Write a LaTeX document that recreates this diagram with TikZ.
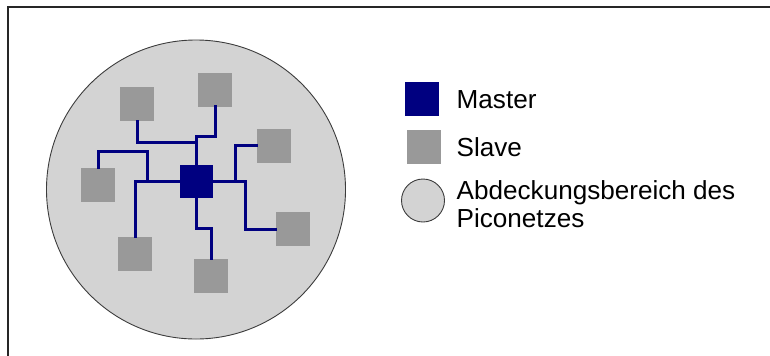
\documentclass[tikz,border=0pt]{standalone}
\usepackage{fontspec}
\setmainfont{Liberation Sans}
\definecolor{mastercol}{RGB}{0,0,128}
\definecolor{slavecol}{RGB}{153,153,153}
\definecolor{areacol}{RGB}{211,211,211}
\definecolor{rimcol}{RGB}{60,60,60}
\begin{document}
\begin{tikzpicture}[x=1bp,y=-1bp,
  masterbox/.style={rectangle,fill=mastercol,inner sep=0pt,minimum size=33bp},
  slavebox/.style={rectangle,fill=slavecol,inner sep=0pt,minimum size=34bp},
  area/.style={circle,fill=areacol,draw=rimcol,line width=0.9bp,inner sep=0pt},
  link/.style={draw=mastercol,line width=3bp,line cap=rect},
  legtext/.style={anchor=base west,inner sep=0pt,font=\fontsize{26.1bp}{28bp}\selectfont},
  frame/.style={draw=black!85,line width=1.6bp}]
\useasboundingbox (0,0) rectangle (770,355);
% frame (top and left edges visible)
\coordinate (ftl) at (8,7);
\coordinate (ftr) at (771,7);
\coordinate (fbl) at (8,356);
\draw[frame] (ftr) -- (ftl) -- (fbl);
% coverage area
\node[area,minimum size=299bp] (cov) at (196,189.5) {};
% slaves
\node[slavebox] (s1) at (137,104) {};
\node[slavebox] (s2) at (215,89.5) {};
\node[slavebox] (s3) at (273.5,145.5) {};
\node[slavebox] (s4) at (98,185) {};
\node[slavebox] (s5) at (293,229) {};
\node[slavebox] (s6) at (135,254) {};
\node[slavebox] (s7) at (211,276) {};
% junctions
\coordinate (jL) at (147,181.5);
\coordinate (jR1) at (235,181.5);
\coordinate (jR2) at (245,181.5);
% connectors (drawn before master so master covers the joins)
\path[link] (196.5,181.5) coordinate (mc);
\draw[link] (mc) ++(0,-16.5) coordinate (mtop) -- ++(0,-29) -| (s2.south);
\draw[link] (s1.south) -- ++(0,21) -| (mtop);
\draw[link] (mc) ++(-16.5,0) coordinate (mleft) -| (s6.north);
\draw[link] (s4.north) -- ++(0,-16) -| (jL);
\draw[link] (mc) ++(16.5,0) coordinate (mright) -- (jR2) |- (s5.west);
\draw[link] (jR1) |- (s3.west);
\draw[link] (mc) ++(0,16.5) coordinate (mbot) -- ++(0,30.5) -| (s7.north);
% master
\node[masterbox] (m) at (mc) {};
% legend
\node[masterbox,minimum size=34bp] (lm) at (422,99) {};
\node[legtext] (tm) at (456.5,108) {Master};
\node[slavebox] (ls) at (423.5,147) {};
\node[legtext] (ts) at (456.5,156) {Slave};
\node[area,minimum size=43bp] (la) at (423,200.5) {};
\node[legtext] (ta1) at (456.5,199.5) {Abdeckungsbereich des};
\node[legtext] (ta2) at (456.5,227.5) {Piconetzes};
\end{tikzpicture}
\end{document}
